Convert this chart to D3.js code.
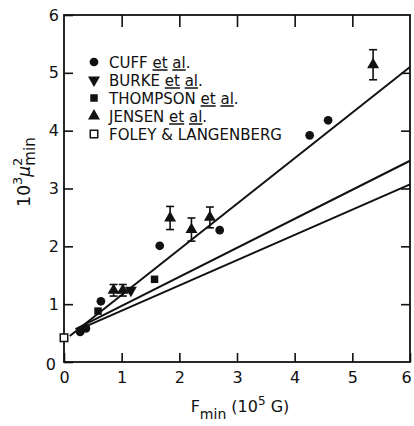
<!DOCTYPE html>
<html>
<head>
<meta charset="utf-8">
<script src="https://cdn.jsdelivr.net/npm/d3@7"></script>
<style>
	html, body { margin: 0; padding: 0; background: #fff; }
	svg { display: block; }
	text { font-family: "DejaVu Sans", "Liberation Sans", sans-serif; fill: #111; }
</style>
</head>
<body>
<div id="chart"></div>
<script>
// data (F_min in 1e5 G, 1e3 mu^2_min)
const cuff = [[0.28, 0.52], [0.38, 0.58], [0.64, 1.05], [1.66, 2.01], [2.7, 2.28], [4.26, 3.92], [4.58, 4.18]];
const burke = [[1.16, 1.24]];
const thompson = [[0.59, 0.88], [1.57, 1.43]];
// x, y, error
const jensen = [[0.86, 1.24, 0.1], [1.02, 1.24, 0.1], [1.84, 2.49, 0.2], [2.21, 2.29, 0.2], [2.53, 2.5, 0.18], [5.36, 5.14, 0.26]];
const foley = [[0, 0.42]];

// fitted lines, end points
const lineSteep = [[0.1, 0.45], [6, 5.1]];
const lineMid = [[0.2, 0.57], [6, 3.48]];
const lineLow = [[0.3, 0.58], [6, 3.07]];

const xTicks = [0, 1, 2, 3, 4, 5, 6];
const yTicks = [0, 1, 2, 3, 4, 5, 6];

const legendItems = [
	{ name: "CUFF", etal: true, shape: "circle" },
	{ name: "BURKE", etal: true, shape: "down" },
	{ name: "THOMPSON", etal: true, shape: "square" },
	{ name: "JENSEN", etal: true, shape: "up" },
	{ name: "FOLEY & LANGENBERG", etal: false, shape: "open" },
];

const width = 414, height = 426;
const plot = { left: 64, right: 410, top: 15, bottom: 362 };

const svg = d3.select("#chart").append("svg")
	.attr("width", width)
	.attr("height", height);

const x = d3.scaleLinear().domain([0, 6]).range([plot.left, plot.right]);
const y = d3.scaleLinear().domain([0, 6]).range([plot.bottom, plot.top]);

// frame
svg.append("rect")
	.attr("x", plot.left).attr("y", plot.top)
	.attr("width", plot.right - plot.left)
	.attr("height", plot.bottom - plot.top)
	.attr("fill", "none")
	.attr("stroke", "#111")
	.attr("stroke-width", 1.8);

// axes, ticks pointing inward
const tickLen = 9;
const styleAxis = g => {
	g.select(".domain").remove();
	g.selectAll(".tick line").attr("stroke", "#111").attr("stroke-width", 1.6);
	g.selectAll(".tick text").style("font-size", "16px").style("font-family", "DejaVu Sans").attr("fill", "#111");
};

svg.append("g")
	.attr("transform", `translate(0,${plot.bottom})`)
	.call(d3.axisBottom(x).tickValues(xTicks).tickSize(-tickLen).tickFormat(d3.format("d")))
	.call(styleAxis)
	.call(g => g.selectAll(".tick text").attr("y", 10).attr("dy", "0.71em"))
	// last label sits on the window edge, nudge it in
	.call(g => g.selectAll(".tick").filter(d => d === 6).select("text").attr("dx", -4));

svg.append("g")
	.attr("transform", `translate(${plot.left},0)`)
	.call(d3.axisLeft(y).tickValues(yTicks).tickSize(-tickLen).tickFormat(d3.format("d")))
	.call(styleAxis)
	.call(g => g.selectAll(".tick text").attr("x", -5))
	.call(g => g.selectAll(".tick").filter(d => d === 0).select("text").attr("x", -8).attr("dy", "0.45em"));

svg.append("g")
	.attr("transform", `translate(0,${plot.top})`)
	.call(d3.axisTop(x).tickValues(xTicks.slice(1, -1)).tickSize(-tickLen - 3).tickFormat(""))
	.call(styleAxis);

svg.append("g")
	.attr("transform", `translate(${plot.right},0)`)
	.call(d3.axisRight(y).tickValues(yTicks.slice(1, -1)).tickSize(-tickLen).tickFormat(""))
	.call(styleAxis);

// fitted lines
const line = d3.line().x(d => x(d[0])).y(d => y(d[1]));
[lineSteep, lineMid, lineLow].forEach(l => {
	svg.append("path")
		.attr("d", line(l))
		.attr("fill", "none")
		.attr("stroke", "#111")
		.attr("stroke-width", 2);
});

// markers
const symbolPath = shape => {
	if (shape === "circle") return d3.symbol().type(d3.symbolCircle).size(60)();
	if (shape === "square" || shape === "open") return d3.symbol().type(d3.symbolSquare).size(56)();
	return d3.symbol().type(d3.symbolTriangle).size(62)();
};
const drawMarker = (g, shape, px, py) => {
	const p = g.append("path")
		.attr("d", symbolPath(shape))
		.attr("transform", `translate(${px},${py})` + (shape === "down" ? " rotate(180)" : ""));
	if (shape === "open") {
		p.attr("fill", "#fff").attr("stroke", "#111").attr("stroke-width", 1.5);
	} else {
		p.attr("fill", "#111");
	}
};

const marks = svg.append("g");

// error bars for Jensen
const capW = 4;
jensen.forEach(d => {
	const top = y(d[1] + d[2]), bot = y(d[1] - d[2]), cx = x(d[0]);
	marks.append("line").attr("x1", cx).attr("x2", cx).attr("y1", top).attr("y2", bot);
	marks.append("line").attr("x1", cx - capW).attr("x2", cx + capW).attr("y1", top).attr("y2", top);
	marks.append("line").attr("x1", cx - capW).attr("x2", cx + capW).attr("y1", bot).attr("y2", bot);
});
marks.selectAll("line").attr("stroke", "#111").attr("stroke-width", 1.6);

cuff.forEach(d => drawMarker(marks, "circle", x(d[0]), y(d[1])));
burke.forEach(d => drawMarker(marks, "down", x(d[0]), y(d[1])));
thompson.forEach(d => drawMarker(marks, "square", x(d[0]), y(d[1])));
jensen.forEach(d => drawMarker(marks, "up", x(d[0]), y(d[1])));
foley.forEach(d => drawMarker(marks, "open", x(d[0]), y(d[1])));

// legend
const legend = svg.append("g");
const legX = 94, legY = 62, legStep = 18;
legendItems.forEach((item, i) => {
	const ly = legY + i * legStep;
	drawMarker(legend, item.shape, legX, ly);
	const t = legend.append("text")
		.attr("x", legX + 15)
		.attr("y", ly + 5.5)
		.style("font-size", "15px");
	t.append("tspan").text(item.name);
	if (item.etal) {
		t.append("tspan").text(" et al.");
		// underline "et" and "al"
		const node = t.node();
		const start = item.name.length + 1;
		[[start, start + 1], [start + 3, start + 4]].forEach(([a, b]) => {
			const x0 = node.getStartPositionOfChar(a).x;
			const x1 = node.getEndPositionOfChar(b).x;
			legend.append("line")
				.attr("x1", x0).attr("x2", x1)
				.attr("y1", ly + 8).attr("y2", ly + 8)
				.attr("stroke", "#111").attr("stroke-width", 1.5);
		});
	}
});

// axis titles
const xTitle = svg.append("text")
	.attr("x", 240)
	.attr("y", 412)
	.attr("text-anchor", "middle")
	.style("font-size", "16px");
xTitle.append("tspan").text("F");
xTitle.append("tspan").attr("dy", 7).style("font-size", "14px").text("min");
xTitle.append("tspan").attr("dy", -7).text("  (10");
xTitle.append("tspan").attr("dy", -7).style("font-size", "12px").text("5");
xTitle.append("tspan").attr("dy", 7).text(" G)");

const yTitle = svg.append("text")
	.attr("transform", "translate(30,172) rotate(-90)")
	.attr("text-anchor", "middle")
	.style("font-size", "17px");
yTitle.append("tspan").text("10");
yTitle.append("tspan").attr("dy", -8).style("font-size", "13px").text("3");
yTitle.append("tspan").attr("dy", 8).style("font-style", "italic").text("\u03bc");
yTitle.append("tspan").attr("dy", -8).style("font-size", "13px").text("2");
yTitle.append("tspan").attr("dx", -8).attr("dy", 13).style("font-size", "15px").text("min");
</script>
</body>
</html>
